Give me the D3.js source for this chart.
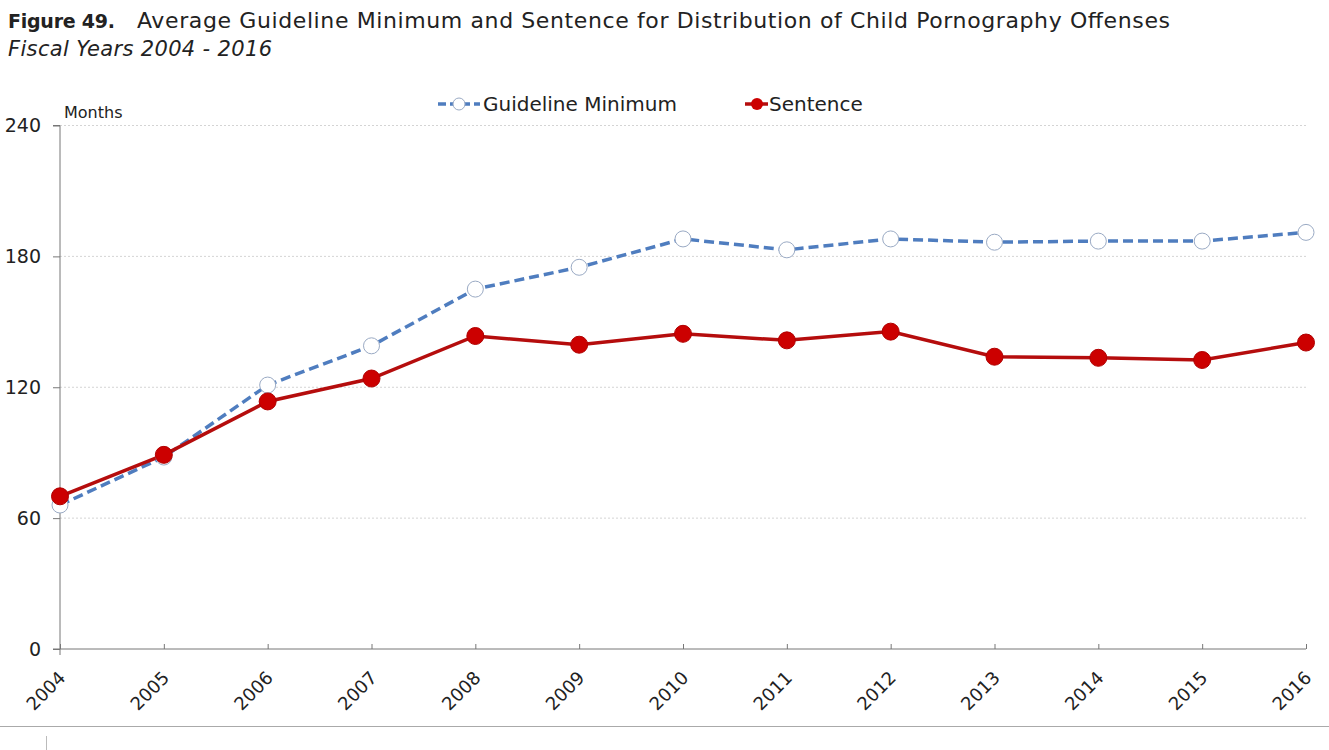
<!DOCTYPE html>
<html><head><meta charset="utf-8">
<script src="https://cdn.jsdelivr.net/npm/d3@7"></script>
<style>body{margin:0;background:#fff;} svg{display:block;} text{font-family:"DejaVu Sans",sans-serif;fill:#222;}</style>
</head><body>
<svg id="c" width="1329" height="750"></svg>
<script>
const years = ["2004","2005","2006","2007","2008","2009","2010","2011","2012","2013","2014","2015","2016"];
const guidelineMin = [66, 88, 121, 139, 165, 175, 188, 183, 188, 186.5, 187, 187, 191];
const sentence = [70, 89, 113.5, 124, 143.5, 139.5, 144.5, 141.5, 145.5, 134, 133.5, 132.5, 140.5];
const yTicks = [0, 60, 120, 180, 240];
const seriesNames = ["Guideline Minimum", "Sentence"];

const svg = d3.select("#c");
const x = d3.scalePoint().domain(years).range([60, 1306]);
const y = d3.scaleLinear().domain([0, 240]).range([649, 125.5]);

// title
svg.append("text").attr("x", 8).attr("y", 28).style("font-size", "19px").style("font-weight", "bold")
  .attr("textLength", 107).attr("lengthAdjust", "spacing").text("Figure 49.");
svg.append("text").attr("x", 137).attr("y", 28).style("font-size", "22px")
  .attr("textLength", 1033).attr("lengthAdjust", "spacing")
  .text("Average Guideline Minimum and Sentence for Distribution of Child Pornography Offenses");
svg.append("text").attr("x", 8).attr("y", 56).style("font-size", "21px").style("font-style", "italic")
  .attr("textLength", 264).attr("lengthAdjust", "spacing")
  .text("Fiscal Years 2004 - 2016");

// gridlines
svg.append("g").selectAll("line").data(yTicks.filter(d => d > 0)).join("line")
  .attr("x1", 60).attr("x2", 1306).attr("y1", d => y(d)).attr("y2", d => y(d))
  .attr("stroke", "#d4d4d4").attr("stroke-width", 1).attr("stroke-dasharray", "2,2");

// y axis
const ya = svg.append("g").attr("transform", "translate(60,0)")
  .call(d3.axisLeft(y).tickValues(yTicks).tickSize(7).tickPadding(12).tickFormat(d3.format("d")));
ya.select(".domain").attr("stroke", "#777").attr("d", `M-7,${y(240)}H0V${y(0)+6}`);
ya.selectAll(".tick line").attr("stroke", "#777");
ya.selectAll(".tick text").style("font-size", "19px").attr("fill", "#222").style("font-family", "DejaVu Sans, sans-serif");

svg.append("text").attr("x", 64).attr("y", 118).style("font-size", "16px").text("Months");

// x axis
const xa = svg.append("g").attr("transform", `translate(0,${y(0)})`)
  .call(d3.axisBottom(x).tickSize(-5).tickPadding(0));
xa.select(".domain").attr("stroke", "#777").attr("d", `M53,0H1306`);
xa.selectAll(".tick line").attr("stroke", "#777");
xa.selectAll(".tick text").style("font-size", "18px").attr("fill", "#222").style("font-family", "DejaVu Sans, sans-serif")
  .attr("text-anchor", "end").attr("dy", null)
  .attr("transform", "translate(6,30) rotate(-45)");

// lines
const line = d3.line().x((d, i) => x(years[i])).y(d => y(d));
svg.append("path").datum(guidelineMin).attr("d", line).attr("fill", "none")
  .attr("stroke", "#4f7dbf").attr("stroke-width", 3.5).attr("stroke-dasharray", "10,5");
svg.append("path").datum(sentence).attr("d", line).attr("fill", "none")
  .attr("stroke", "#b50d0d").attr("stroke-width", 3.5);

svg.append("g").selectAll("circle").data(guidelineMin).join("circle")
  .attr("cx", (d, i) => x(years[i])).attr("cy", d => y(d)).attr("r", 8)
  .attr("fill", "#fff").attr("stroke", "#9aaac4").attr("stroke-width", 1);
svg.append("g").selectAll("circle").data(sentence).join("circle")
  .attr("cx", (d, i) => x(years[i])).attr("cy", d => y(d)).attr("r", 8.5)
  .attr("fill", "#cc0000").attr("stroke", "#b00000").attr("stroke-width", 1);

// legend
const lg = svg.append("g");
lg.append("line").attr("x1", 438).attr("x2", 480).attr("y1", 104).attr("y2", 104)
  .attr("stroke", "#4f7dbf").attr("stroke-width", 3.5).attr("stroke-dasharray", "8,4");
lg.append("circle").attr("cx", 459).attr("cy", 104).attr("r", 6).attr("fill", "#fff").attr("stroke", "#9aaac4");
lg.append("text").attr("x", 483).attr("y", 111).style("font-size", "20px").text(seriesNames[0]);
lg.append("line").attr("x1", 745).attr("x2", 768).attr("y1", 104).attr("y2", 104)
  .attr("stroke", "#b50d0d").attr("stroke-width", 3.5);
lg.append("circle").attr("cx", 757).attr("cy", 104).attr("r", 6).attr("fill", "#cc0000");
lg.append("text").attr("x", 769).attr("y", 111).style("font-size", "20px").text(seriesNames[1]);

// bottom separator
svg.append("line").attr("x1", 0).attr("x2", 1329).attr("y1", 726.5).attr("y2", 726.5).attr("stroke", "#aaa");
svg.append("line").attr("x1", 46.5).attr("x2", 46.5).attr("y1", 736).attr("y2", 750).attr("stroke", "#bbb");
</script>
</body></html>
